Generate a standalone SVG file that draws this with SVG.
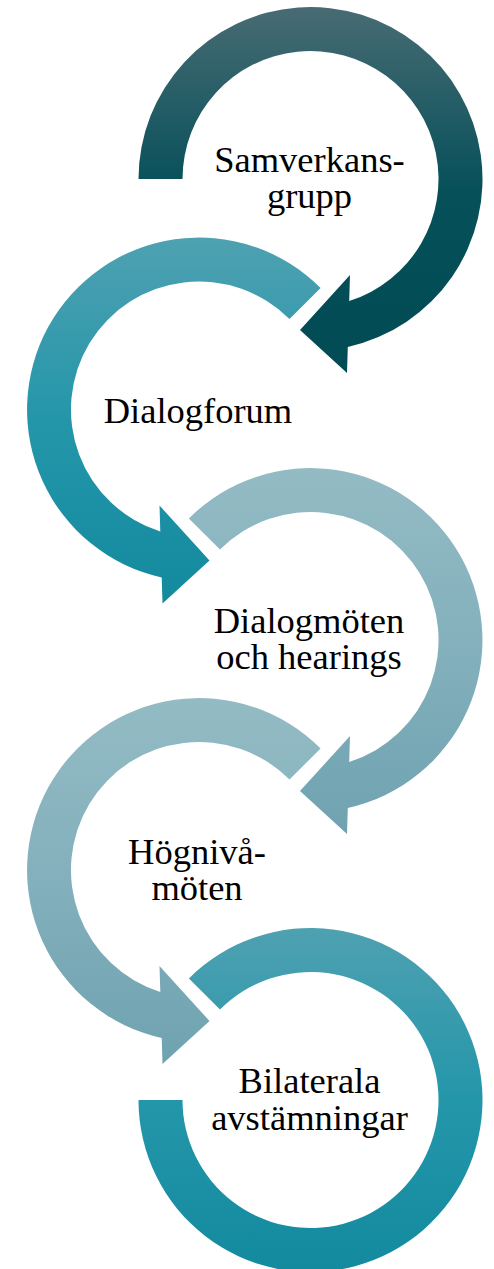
<svg xmlns="http://www.w3.org/2000/svg" width="494" height="1269" viewBox="0 0 494 1269">
<style>
.lbl{font-family:"Liberation Serif","Times New Roman",serif;font-size:36.5px;fill:#000;text-anchor:middle}
</style>
<defs>
<linearGradient id="gDark" x1="0" y1="0" x2="0" y2="1">
<stop offset="0" stop-color="#486b73"/>
<stop offset="0.5" stop-color="#06505a"/>
<stop offset="1" stop-color="#014b55"/>
</linearGradient>
<linearGradient id="gMid" x1="0" y1="0" x2="0" y2="1">
<stop offset="0" stop-color="#4ea1b1"/>
<stop offset="0.5" stop-color="#2496aa"/>
<stop offset="1" stop-color="#138a9e"/>
</linearGradient>
<linearGradient id="gLight" x1="0" y1="0" x2="0" y2="1">
<stop offset="0" stop-color="#93bbc4"/>
<stop offset="0.5" stop-color="#83b0bc"/>
<stop offset="1" stop-color="#6fa2b0"/>
</linearGradient>
</defs>
<rect width="494" height="1269" fill="#fff"/>
<g id="connectors">
<path id="arc1" fill="url(#gDark)" d="M138.5,179 A172,172 0 1 1 347.8,347 L347,373 L300,330 L350,275 L349.2,301 A128,128 0 1 0 182.5,179 Z"/>
<path id="arc2" fill="url(#gMid)" d="M320.6,287.9 A172,172 0 1 0 161.7,577.5 L162.5,603.5 L209.5,560.5 L159.5,505.5 L160.3,531.5 A128,128 0 1 1 289.5,319 Z"/>
<path id="arc3" fill="url(#gLight)" d="M188.9,518.4 A172,172 0 1 1 347.8,808 L347,834 L300,791 L350,736 L349.2,762 A128,128 0 1 0 220,549.5 Z"/>
<path id="arc4" fill="url(#gLight)" d="M320.6,748.4 A172,172 0 1 0 161.7,1038 L162.5,1064 L209.5,1021 L159.5,966 L160.3,992 A128,128 0 1 1 289.5,779.5 Z"/>
<path id="arc5" fill="url(#gMid)" d="M188.9,978.4 A172,172 0 1 1 138.5,1100 L182.5,1100 A128,128 0 1 0 220,1009.5 Z"/>
</g>
<g id="node1"><text class="lbl" x="309.5" y="171.5">Samverkans-</text><text class="lbl" x="309.5" y="207.5">grupp</text></g>
<g id="node2"><text class="lbl" x="198" y="422.5">Dialogforum</text></g>
<g id="node3"><text class="lbl" x="309" y="633">Dialogmöten</text><text class="lbl" x="309" y="669">och hearings</text></g>
<g id="node4"><text class="lbl" x="197" y="864">Högnivå-</text><text class="lbl" x="197" y="900">möten</text></g>
<g id="node5"><text class="lbl" x="309.5" y="1093">Bilaterala</text><text class="lbl" x="309.5" y="1130">avstämningar</text></g>
</svg>
